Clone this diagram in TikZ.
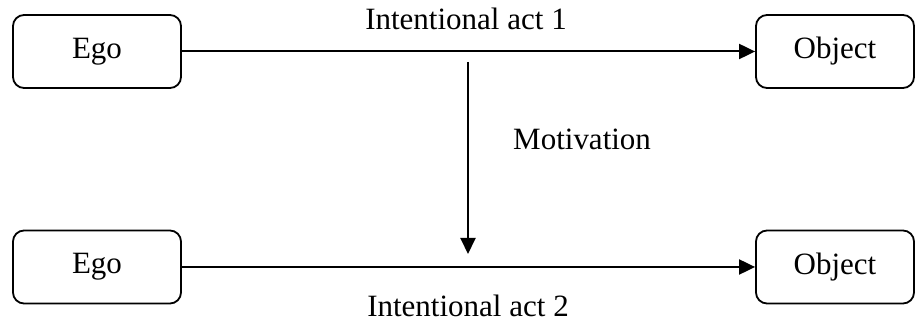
\documentclass[tikz,border=0pt]{standalone}
\usepackage{fontspec}
\setmainfont{Liberation Serif}
\usetikzlibrary{arrows.meta}
\begin{document}
\begin{tikzpicture}[x=1pt,y=1pt,
  box/.style={draw, line width=1.8pt, rounded corners=11pt, minimum height=73pt, inner sep=0pt, font=\fontsize{31}{36}\selectfont},
  egobox/.style={box, minimum width=168pt},
  objbox/.style={box, minimum width=158pt},
  lbl/.style={font=\fontsize{31}{36}\selectfont, inner sep=0pt},
  conn/.style={line width=2pt, -{Triangle[length=16pt,width=15pt]}}]
\useasboundingbox (0,0) rectangle (916,323);
\node[egobox] (ego1) at (97,271.5) {Ego};
\node[objbox] (obj1) at (835,271.5) {Object};
\node[egobox] (ego2) at (97,56) {Ego};
\node[objbox] (obj2) at (835,56) {Object};
\draw[conn] (ego1) -- (obj1);
\draw[conn] (ego2) -- (obj2);
\node[lbl, anchor=base] (t1) at (466,293) {Intentional act 1};
\node[lbl, anchor=base] (t2) at (468,6) {Intentional act 2};
\node[lbl, anchor=base west] (mot) at (513,173) {Motivation};
\coordinate (vs) at (468,261);
\coordinate (ve) at (468,69);
\draw[conn] (vs) -- (ve);
\end{tikzpicture}
\end{document}
